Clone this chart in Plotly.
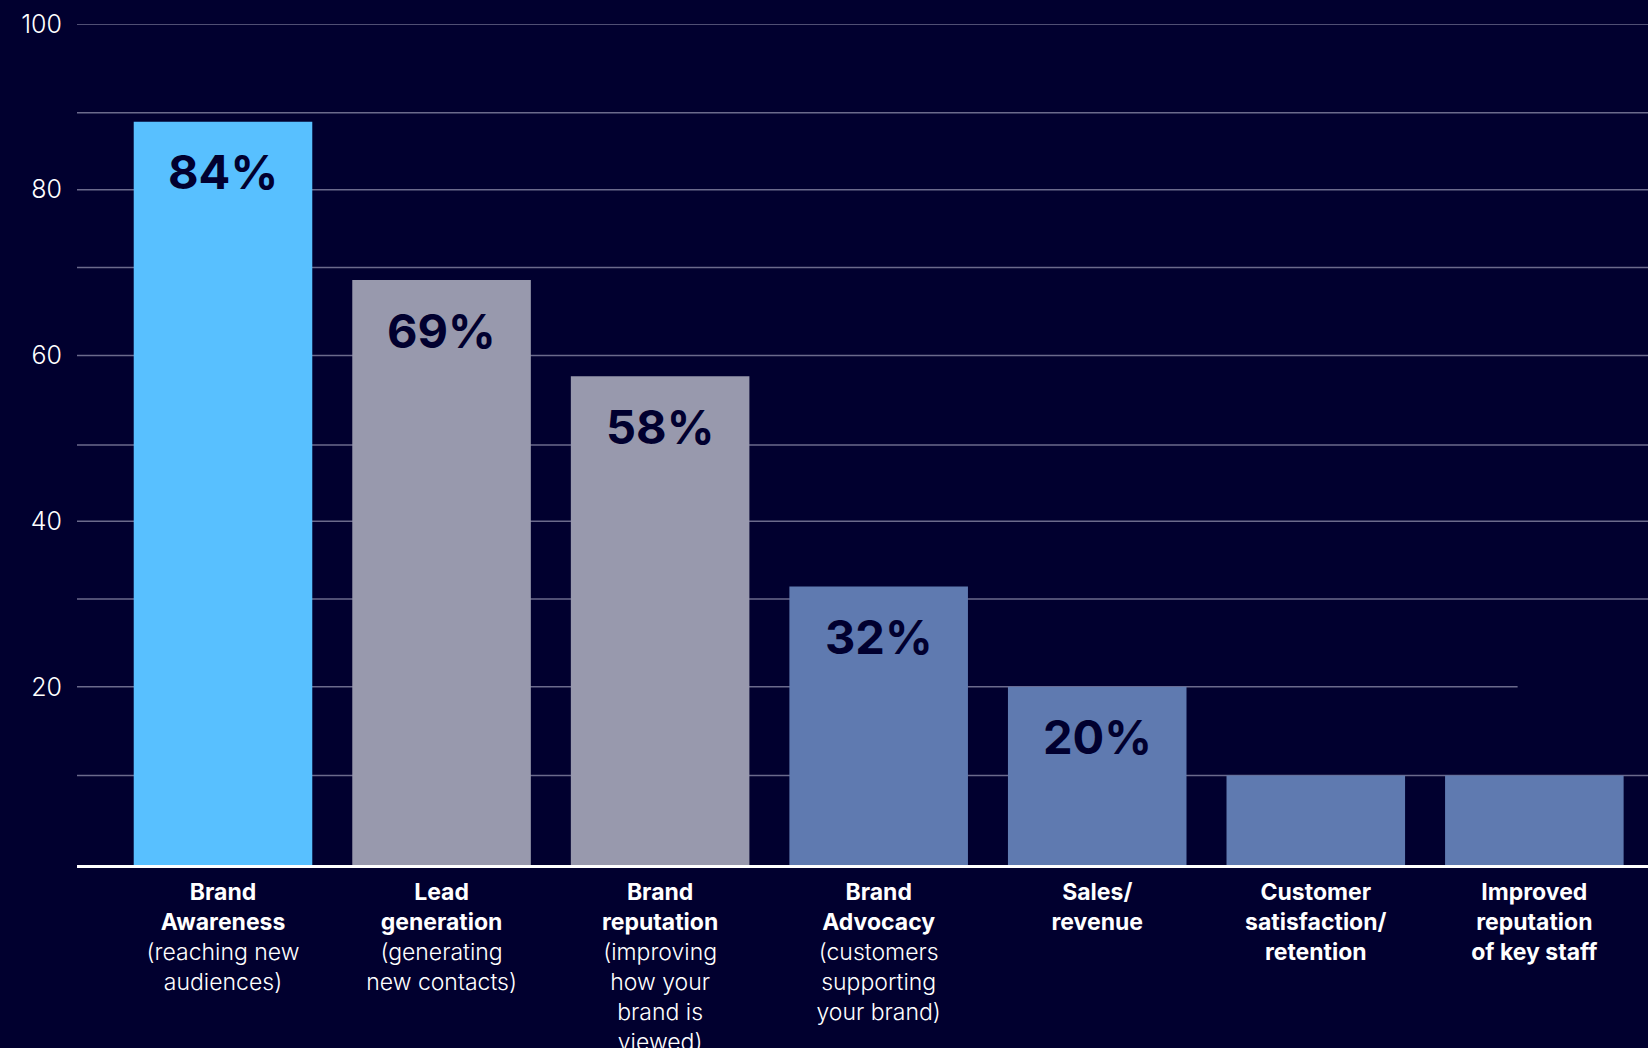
#bar chart - what brands get out of their campaigns
import plotly.graph_objects as go

#data
categories = ["Brand Awareness", "Lead generation", "Brand reputation", "Brand Advocacy",
              "Sales/revenue", "Customer satisfaction/retention", "Improved reputation of key staff"]
bar_heights = [88.2, 69.1, 57.5, 32.1, 20.0, 9.3, 9.3]
bar_labels = ["84%", "69%", "58%", "32%", "20%", "", ""]
tick_labels = [
    "<b>Brand</b><br><b>Awareness</b><br>(reaching new<br>audiences)",
    "<b>Lead</b><br><b>generation</b><br>(generating<br>new contacts)",
    "<b>Brand</b><br><b>reputation</b><br>(improving<br>how your<br>brand is<br>viewed)",
    "<b>Brand</b><br><b>Advocacy</b><br>(customers<br>supporting<br>your brand)",
    "<b>Sales/</b><br><b>revenue</b>",
    "<b>Customer</b><br><b>satisfaction/</b><br><b>retention</b>",
    "<b>Improved</b><br><b>reputation</b><br><b>of key staff</b>",
]
y_ticks = [20, 40, 60, 80, 100]
minor_grid = [9.3, 30.6, 49.2, 70.6, 89.3]

bg = "#01002F"
grid_col = "#6B6A8C"
bar_colors = ["#58C0FF", "#9899AD", "#9899AD", "#5F7AB0", "#5F7AB0", "#5F7AB0", "#5F7AB0"]
font_fam = "Inter, Open Sans, sans-serif"
base_val = -1.5  # axis baseline sits a bit under zero in the original

fig = go.Figure()
fig.add_trace(go.Bar(
    x=categories,
    y=[v - base_val for v in bar_heights],
    base=base_val,
    marker=dict(color=bar_colors, line=dict(width=0)),
    hoverinfo="skip",
))

#percent labels inside the top of each bar
for cat, h, lab in zip(categories, bar_heights, bar_labels):
    if lab:
        fig.add_annotation(x=cat, y=h, text="<b>%s</b>" % lab, showarrow=False,
                           yanchor="middle", yshift=-50,
                           font=dict(family=font_fam, size=47, color=bg))

#gridlines (the 20 line stops short on the right in the original)
shapes = []
for g in y_ticks + minor_grid:
    shapes.append(dict(type="line", xref="paper", yref="y", x0=0, x1=0.917 if g == 20 else 1,
                       y0=g, y1=g, line=dict(color=grid_col, width=1.5), layer="below"))

fig.update_layout(
    width=1648, height=1048,
    paper_bgcolor=bg, plot_bgcolor=bg,
    margin=dict(l=77, r=0, t=24, b=183),
    bargap=0.183,
    showlegend=False,
    shapes=shapes,
    font=dict(family=font_fam, color="white"),
    xaxis=dict(
        range=[-0.668, 6.52],
        tickvals=categories, ticktext=tick_labels,
        tickfont=dict(family=font_fam, size=23, color="white", weight=300),
        showgrid=False, zeroline=False,
        showline=True, linecolor="white", linewidth=2.5,
        ticks="", ticklabelstandoff=5, automargin=False,
    ),
    yaxis=dict(
        range=[base_val, 100],
        tickvals=y_ticks,
        tickfont=dict(family=font_fam, size=25, color="white", weight=300),
        showgrid=False, zeroline=False, showline=False,
        ticks="", ticklabelstandoff=14, automargin=False,
    ),
)

fig.write_html("out.html", config={"displayModeBar": False},
               post_script="document.body.style.margin='0';")
